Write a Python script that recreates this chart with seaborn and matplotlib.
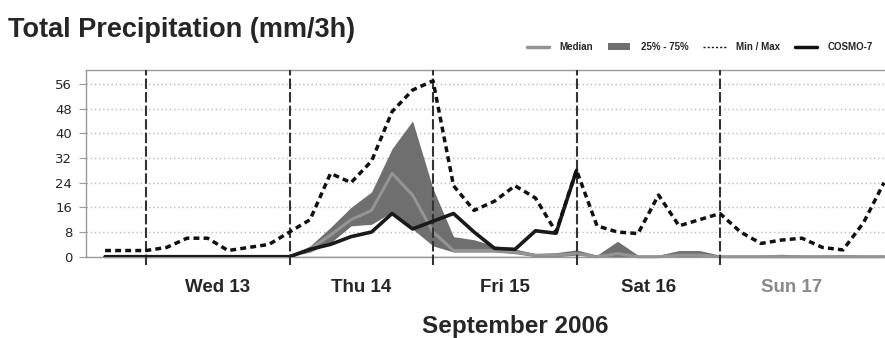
import numpy as np
import pandas as pd
import matplotlib
matplotlib.use("Agg")
import matplotlib.pyplot as plt
from matplotlib.lines import Line2D
from matplotlib.patches import Patch
import seaborn as sns

# 3-hourly steps, 7 steps per day as drawn on the chart
steps = list(range(39))

max_vals = [2, 2, 2, 3, 6, 6, 2, 3, 4, 8,
            12, 27, 24, 31, 47, 54, 57, 23, 15, 18,
            23, 19, 8, 28, 10, 8, 7.5, 20, 10, 12,
            14, 8, 4.3, 5.4, 6, 3, 2.2, 11, 24]
min_vals = [0] * 39
q25 = [0, 0, 0, 0, 0, 0, 0, 0, 0, 0,
       1.5, 4.5, 10, 10.5, 14.5, 9, 3.5, 1.5, 1.5, 1.5,
       1, 0, 0, 0.5, 0, 0, 0, 0, 0, 0,
       0, 0, 0, 0, 0, 0, 0, 0, 0]
q75 = [0, 0, 0, 0, 0, 0, 0, 0, 0, 0,
       3.5, 9.5, 16, 21, 35, 44, 22, 6.5, 5.5, 3.5,
       2.5, 1, 1.3, 2.2, 0.5, 5, 0.5, 0.5, 2, 2,
       0.5, 0.5, 0.5, 0.8, 0.5, 0.5, 0.7, 0.5, 0.5]
median = [0, 0, 0, 0, 0, 0, 0, 0, 0, 0,
          2.5, 7, 12, 15, 27, 20, 8, 2, 2, 2,
          1.5, 0.5, 0.5, 1, 0, 1, 0, 0, 0.5, 0.5,
          0, 0, 0, 0, 0, 0, 0, 0, 0]
cosmo = [0, 0, 0, 0, 0, 0, 0, 0, 0, 0,
         2.4, 4, 6.5, 8, 14, 9, 11.5, 14, 8, 2.7,
         2.4, 8.4, 7.6, 28]

day_bounds = [2, 9, 16, 23, 30]
day_labels = ["Wed 13", "Thu 14", "Fri 15", "Sat 16", "Sun 17"]
y_ticks = [0, 8, 16, 24, 32, 40, 48, 56]

df = pd.DataFrame({"step": steps, "max": max_vals, "min": min_vals,
                   "q25": q25, "q75": q75, "median": median})
df_cosmo = pd.DataFrame({"step": steps[:len(cosmo)], "cosmo": cosmo})

sns.set_style("white")
plt.rcParams["font.family"] = ["Liberation Sans", "DejaVu Sans"]

fig = plt.figure(figsize=(8.85, 3.38), dpi=100)
ax = fig.add_axes([0.0972, 0.2405, 0.9028, 0.5524])

band_col = "#6f6f6f"
med_col = "#949494"
axis_col = "#999999"

ax.fill_between(df["step"], df["q25"], df["q75"], color=band_col, lw=0, zorder=2)
# min sits on the zero line, hidden under the axis
sns.lineplot(data=df, x="step", y="min", color=axis_col, lw=1,
             estimator=None, ax=ax, zorder=1)
sns.lineplot(data=df, x="step", y="median", color=med_col, lw=2.2,
             estimator=None, ax=ax, zorder=3, clip_on=False)

for b in day_bounds:
    ax.axvline(b, ymin=-0.045, ymax=1, color="#333333", lw=1.5,
               ls=(0, (5, 1.5)), clip_on=False, zorder=4)

sns.lineplot(data=df_cosmo, x="step", y="cosmo", color="#1a1a1a", lw=2.6,
             estimator=None, ax=ax, zorder=5)
sns.lineplot(data=df, x="step", y="max", color="#111111", lw=2.5,
             ls=(0, (1.7, 1.2)), estimator=None, ax=ax, zorder=6)

ax.set_xlim(-0.93, 38.05)
ax.set_ylim(0, 60.5)

ax.set_yticks(y_ticks)
ax.set_yticklabels([str(v) for v in y_ticks], fontfamily="DejaVu Sans", fontsize=9.5)
ax.yaxis.grid(True, color="#bbbbbb", ls=(0, (1, 2)), lw=1)
ax.xaxis.grid(False)

centers = [b + 3.5 for b in day_bounds]
ax.set_xticks(centers)
ax.set_xticklabels(day_labels, fontsize=13.5, fontweight="bold")
ax.get_xticklabels()[-1].set_color("#8a8a8a")
ax.set_xticks(steps, minor=True)
ax.tick_params(axis="x", which="major", length=0, pad=16)
ax.tick_params(axis="x", which="minor", length=4, color=axis_col, direction="out")
ax.tick_params(axis="y", length=5, color=axis_col, direction="out", pad=5, left=True)

ax.set_xlabel("")
ax.set_ylabel("")
for side in ["top", "left", "bottom"]:
    ax.spines[side].set_color(axis_col)
    ax.spines[side].set_linewidth(1)
ax.spines["right"].set_visible(False)

fig.text(0.009, 0.89, "Total Precipitation (mm/3h)", fontsize=19.5,
         fontweight="bold", va="baseline")
fig.text(515 / 885, 0.033, "September 2006", fontsize=17.5,
         fontweight="bold", ha="center", va="center")

handles = [Line2D([], [], color=med_col, lw=2.5),
           Patch(facecolor=band_col, edgecolor="none"),
           Line2D([], [], color="#111111", lw=1, ls=(0, (1.5, 1.5))),
           Line2D([], [], color="#111111", lw=2.5)]
labels = ["Median", "25% - 75%", "Min / Max", "COSMO-7"]
fig.legend(handles, labels, loc="center left", bbox_to_anchor=(518 / 885, 0.861),
           ncol=4, frameon=False, handlelength=2.3, handletextpad=1.1,
           columnspacing=1.5, prop={"size": 7, "weight": "bold"})

fig.savefig("out.png", dpi=100)
